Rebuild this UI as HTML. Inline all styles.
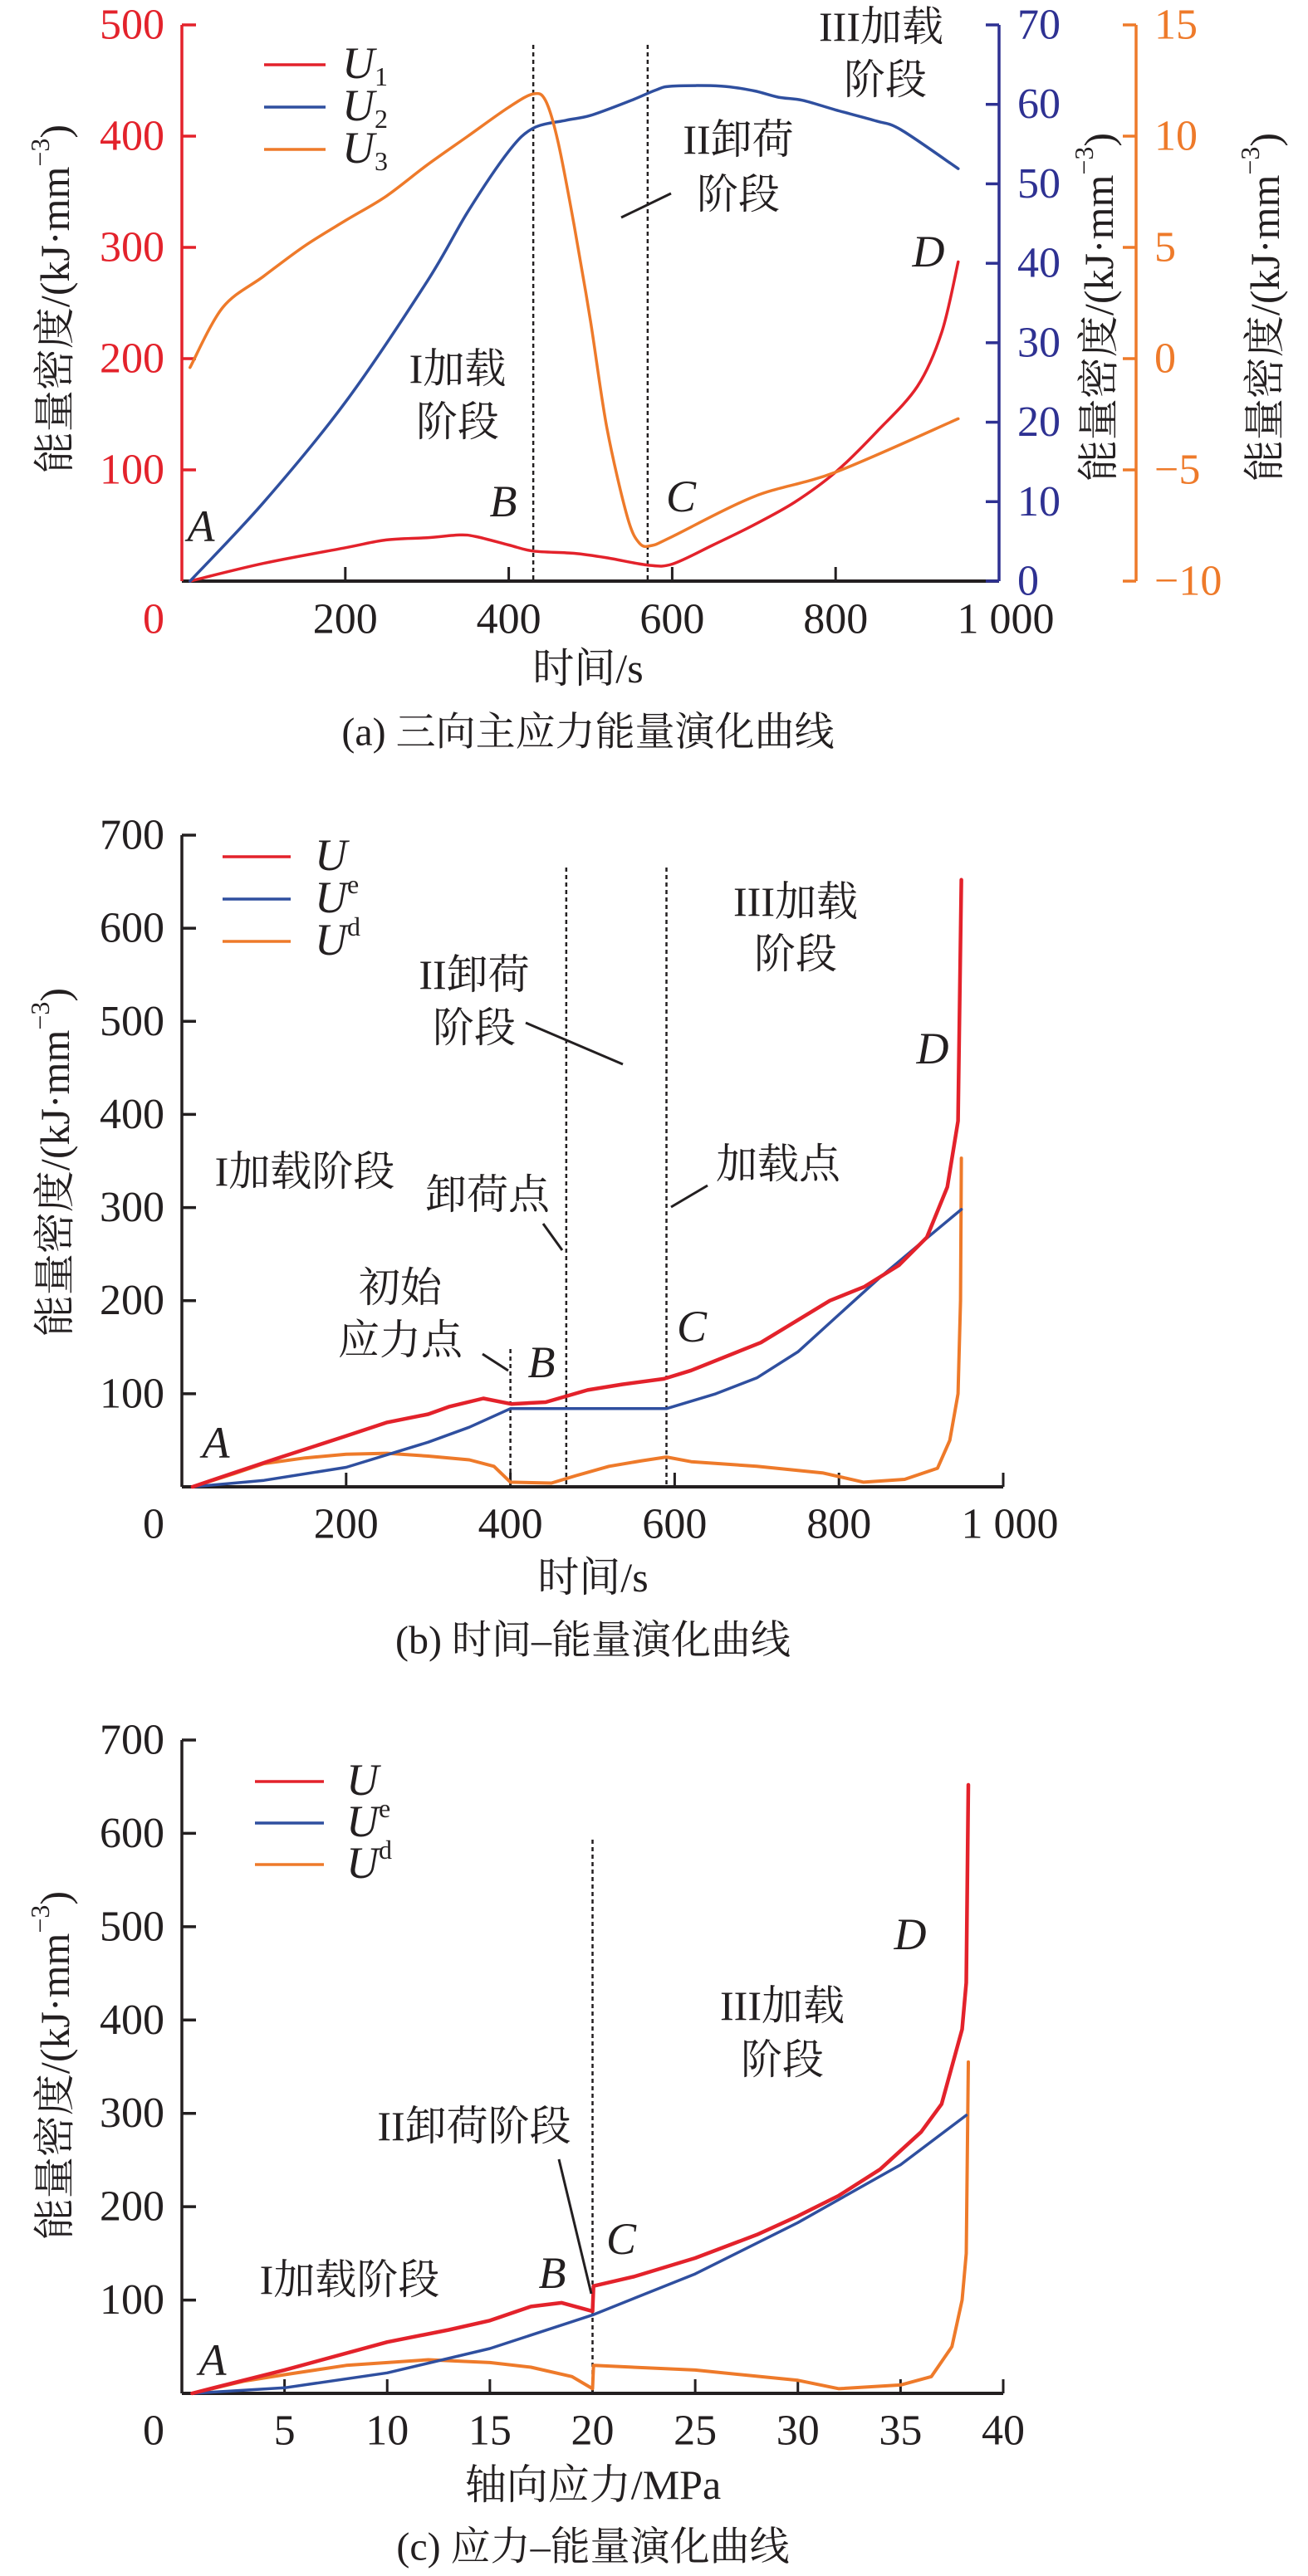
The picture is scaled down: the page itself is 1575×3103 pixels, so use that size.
<!DOCTYPE html>
<html><head><meta charset="utf-8">
<style>
html,body{margin:0;padding:0;background:#fff;}
svg{display:block;}
text{font-family:"Liberation Serif","Noto Serif CJK SC",serif;}
</style></head>
<body>
<svg id="fig" xmlns="http://www.w3.org/2000/svg" width="1575" height="3103" viewBox="0 0 1575 3103"></svg>
<script>
// ---------- Panel (a) data ----------
const aTime1 = [10,100,200,250,300,340,360,400,430,480,520,570,600,650,700,750,800,850,900,930,950];
const aU1    = [0,16,30,37,39,41.5,40,32.5,27,25,21,14.4,15.3,32.5,50.5,71,98,134,175,224,287];
const aTime2 = [10,100,200,300,350,400,430,470,500,550,580,600,660,700,730,760,800,850,880,950];
const aU2    = [0,9.9,22.5,37.7,46.5,54.1,57,58,58.6,60.5,61.8,62.3,62.3,61.7,60.9,60.5,59.3,57.9,56.8,51.9];
const aTime3 = [10,50,100,150,200,250,300,350,400,430,445,460,480,500,520,545,560,575,600,700,800,950];
const aU3    = [-0.4,2.3,3.7,5.06,6.2,7.3,8.7,10,11.3,11.9,11.6,9.8,6,1.7,-3.1,-7.1,-8.3,-8.4,-8,-6.2,-5.1,-2.7];
const aXTicks = [0,200,400,600,800,1000];
const aXTickLabels = ["0","200","400","600","800","1 000"];
const aY1Ticks = [100,200,300,400,500];
const aY2Ticks = [0,10,20,30,40,50,60,70];
const aY3Ticks = [-10,-5,0,5,10,15];
const aY3Labels = ["\u221210","\u22125","0","5","10","15"];
const aDash = [430,570];
// ---------- Panel (b) data ----------
const bTime = [13,63,114,198,249,300,325,367,401,443,494,536,587,620,705,789,831,873,907,932,945,949];
const bU    = [0,15,30,54,69,78,86,95,89,91,104,110,116,125,155,200,215,238,268,322,393,652];
const bTimeE = [13,100,200,300,350,400,470,590,650,700,750,800,850,900,949];
const bUe    = [0,7,21,48,64,84,84,84,100,117,145,185,225,262,298];
const bTimeD = [13,63,100,150,200,250,300,350,380,400,450,480,520,560,590,620,700,780,830,880,920,935,945,948,949];
const bUd    = [0,14,25,31,35,36,33,29,22,5,4,12,22,28,32,27,22,15,5,8,20,50,100,200,353];
const bXTicks = [0,200,400,600,800,1000];
const bXTickLabels = ["0","200","400","600","800","1 000"];
const bYTicks = [100,200,300,400,500,600,700];
// ---------- Panel (c) data ----------
const cS  = [0.5,3,5,10,13,15,17,18.5,20,20.05,22,25,28,30,32,34,36,37,38,38.2,38.3];
const cU  = [0,14,25,55,68,78,93,97,88,115,125,145,170,190,212,240,280,310,390,440,652];
const cSE = [0.5,5,10,15,20,25,30,35,38.2];
const cUe = [0,6,22,48,84,128,183,245,298];
const cSD = [0.5,3,5,8,12,15,17,19,20,20.05,25,30,32,35,36.5,37.5,38,38.2,38.3];
const cUd = [0,13,20,30,36,33,28,18,5,30,25,14,5,9,18,50,100,150,355];
const cXTicks = [0,5,10,15,20,25,30,35,40];
const cYTicks = [100,200,300,400,500,600,700];
const cDash = [20];

const NS = "http://www.w3.org/2000/svg";
const svg = document.getElementById('fig');
const RED="#e3222b", BLUE="#2f4f9f", NAVY="#2e3192", ORANGE="#ee7a2a";

function el(tag, attrs, parent){
  const e = document.createElementNS(NS, tag);
  for (const k in attrs) e.setAttribute(k, attrs[k]);
  (parent||svg).appendChild(e);
  return e;
}
function txt(x,y,s,size,anchor,color,parent,italic){
  const t = el('text',{x:x,y:y,'font-size':size,'text-anchor':anchor||'middle',fill:color||'#231f20','dominant-baseline':'central'},parent);
  if (italic) t.setAttribute('font-style','italic');
  t.textContent = s;
  return t;
}
function line(x1,y1,x2,y2,color,w,parent,dash){
  const l = el('line',{x1:x1,y1:y1,x2:x2,y2:y2,stroke:color,'stroke-width':w||3},parent);
  if (dash) l.setAttribute('stroke-dasharray',dash);
  return l;
}
function series(xs,ys,sx,sy,color,parent,w){
  const pts = xs.map((v,i)=>sx(v).toFixed(1)+','+sy(ys[i]).toFixed(1)).join(' ');
  return el('polyline',{points:pts,fill:'none',stroke:color,'stroke-width':w||3.5,'stroke-linejoin':'round','stroke-linecap':'round'},parent);
}
function smooth(xs,ys,sx,sy,color,parent,w){
  const P = xs.map((v,i)=>[sx(v),sy(ys[i])]);
  let d = 'M'+P[0][0].toFixed(1)+','+P[0][1].toFixed(1);
  const k = 0.16;
  for (let i=0;i<P.length-1;i++){
    const p0=P[Math.max(0,i-1)], p1=P[i], p2=P[i+1], p3=P[Math.min(P.length-1,i+2)];
    const c1=[p1[0]+(p2[0]-p0[0])*k, p1[1]+(p2[1]-p0[1])*k];
    const c2=[p2[0]-(p3[0]-p1[0])*k, p2[1]-(p3[1]-p1[1])*k];
    d += ' C'+c1[0].toFixed(1)+','+c1[1].toFixed(1)+' '+c2[0].toFixed(1)+','+c2[1].toFixed(1)+' '+p2[0].toFixed(1)+','+p2[1].toFixed(1);
  }
  return el('path',{d:d,fill:'none',stroke:color,'stroke-width':w||3.5,'stroke-linejoin':'round','stroke-linecap':'round'},parent);
}
function yTitle(x,y,parent){
  const t = el('text',{x:0,y:0,'font-size':50,'text-anchor':'middle',fill:'#231f20','dominant-baseline':'central',transform:'translate('+x+','+y+') rotate(-90)'},parent);
  t.appendChild(document.createTextNode('能量密度/(kJ·mm'));
  const s = el('tspan',{'font-size':32,dy:-18},t); s.textContent='\u22123';
  const c = el('tspan',{dy:18},t); c.textContent=')';
  return t;
}
function legendLabel(x,y,sup,sub,parent){
  const t = el('text',{x:x,y:y,'font-size':54,'font-style':'italic',fill:'#231f20','dominant-baseline':'central'},parent);
  t.appendChild(document.createTextNode('U'));
  if (sup){ const s=el('tspan',{'font-size':32,'font-style':'normal',dy:-16},t); s.textContent=sup; }
  if (sub){ const s=el('tspan',{'font-size':32,'font-style':'normal',dy:16},t); s.textContent=sub; }
  return t;
}

// ================= PANEL A =================
const gA = el('g',{});


const aL=219, aR=1203, aB=700, aT=30, xBlue=1203, xOr=1368;
const ax = t => aL + (aR-aL)*t/1000;
const ay1 = v => aB - (aB-aT)*v/500;
const ay2 = v => aB - (aB-aT)*v/70;
const ay3 = v => aB - (aB-aT)*(v+10)/25;
const aXAxis = line(aL,aB,aR,aB,'#231f20',4,gA);


const aYAxis1 = line(aL,aT,aL,aB,RED,3.5,gA);


const aYAxis2 = line(xBlue,aT,xBlue,aB,NAVY,3.5,gA);


const aYAxis3 = line(xOr,aT,xOr,aB,ORANGE,3.5,gA);


aXTicks.forEach((t,i)=>{
  if (t>0 && t<1000) line(ax(t),aB,ax(t),aB-17,'#231f20',3,gA);
  const lb = txt(t==0?185:ax(t)+(t==1000?8:0),746,aXTickLabels[i],52,'middle',t==0?RED:'#231f20',gA);
  
  
});
aY1Ticks.forEach(v=>{
  line(aL,ay1(v),aL+17,ay1(v),RED,3.5,gA);
  const lb=txt(198,ay1(v),String(v),52,'end',RED,gA);
  
  
});
aY2Ticks.forEach(v=>{
  line(xBlue-16,ay2(v),xBlue,ay2(v),NAVY,3.5,gA);
  const lb=txt(1225,ay2(v),String(v),52,'start',NAVY,gA);
  
  
});
aY3Ticks.forEach((v,i)=>{
  line(xOr-16,ay3(v),xOr,ay3(v),ORANGE,3.5,gA);
  const lb=txt(1390,ay3(v),aY3Labels[i],52,'start',ORANGE,gA);
  
  
});
const aT1 = yTitle(66,360,gA);


const aT2 = yTitle(1323,370,gA);


const aT3 = yTitle(1523,370,gA);


const aXT = txt(708,805,'时间/s',50,'middle','#231f20',gA);


const aCap = txt(708,882,'(a) 三向主应力能量演化曲线',48,'middle','#231f20',gA);


aDash.forEach(t=>{
  const d=line(ax(t),54,ax(t),aB,'#231f20',2.5,gA,'5,4');
  
  
});
const sA1 = smooth(aTime1,aU1,ax,ay1,RED,gA);


const sA2 = smooth(aTime2,aU2,ax,ay2,BLUE,gA);


const sA3 = smooth(aTime3,aU3,ax,ay3,ORANGE,gA);


[[RED,'1'],[BLUE,'2'],[ORANGE,'3']].forEach((c,i)=>{
  const y=78+i*51;
  const l=line(318,y,392,y,c[0],3.5,gA);
  
  
  const lb=legendLabel(412,y-2,null,c[1],gA);
  
  
});
[['III加载',1061,32],['阶段',1066,96],['II卸荷',889,168],['阶段',889,234],['I加载',551,444],['阶段',551,508]].forEach(a=>{
  const t=txt(a[1],a[2],a[0],50,'middle','#231f20',gA);
  
  
});
line(748,262,808,233,'#231f20',3,gA);
[['A',242,634],['B',606,604],['C',820,598],['D',1118,303]].forEach(a=>{
  const t=txt(a[1],a[2],a[0],54,'middle','#231f20',gA,true);
  
  
});

// ================= PANEL B =================
const gB = el('g',{});


const bL=219, bR=1208, bB=1791, bT=1006;
const bx = t => bL + (bR-bL)*t/1000;
const by = v => bB - (bB-bT)*v/700;
function stdAxes(g,L,R,B,T,xt,xlab,sx,yt,sy,labY){
  const xa=line(L,B,R,B,'#231f20',4,g);
  
  
  const ya=line(L,T,L,B,'#231f20',3.5,g);
  
  
  xt.forEach((t,i)=>{
    if (i>0) line(sx(t),B,sx(t),B-17,'#231f20',3,g);
    const lb=txt(i==0?185:sx(t)+(xlab[i].length>3?8:0),labY,xlab[i],52,'middle','#231f20',g);
    
    
  });
  yt.forEach(v=>{
    line(L,sy(v),L+17,sy(v),'#231f20',3.5,g);
    const lb=txt(198,sy(v),String(v),52,'end','#231f20',g);
    
    
  });
}
stdAxes(gB,bL,bR,bB,bT,bXTicks,bXTickLabels,bx,bYTicks,by,1836);
const bYT = yTitle(66,1400,gB);


const bXT = txt(714,1900,'时间/s',50,'middle','#231f20',gB);


const bCap = txt(714,1976,'(b) 时间–能量演化曲线',48,'middle','#231f20',gB);


const bD1=line(bx(400),1625,bx(400),bB,'#231f20',2.5,gB,'5,4');


const bD2=line(bx(468),1045,bx(468),bB,'#231f20',2.5,gB,'5,4');


const bD3=line(bx(590),1045,bx(590),bB,'#231f20',2.5,gB,'5,4');


const sBD=series(bTimeD,bUd,bx,by,ORANGE,gB,4);


const sBE=series(bTimeE,bUe,bx,by,BLUE,gB);


const sBU=series(bTime,bU,bx,by,RED,gB,4.5);


function legend3(g,x1,x2,ys,lx){
  [[RED,null],[BLUE,'e'],[ORANGE,'d']].forEach((c,i)=>{
    const l=line(x1,ys[i],x2,ys[i],c[0],3.5,g);
    
    
    const lb=legendLabel(lx,ys[i]-2,c[1],null,g);
    
    
  });
}
legend3(gB,268,350,[1032,1083,1134],379);
[['III加载',958,1086],['阶段',958,1149],['II卸荷',571,1174],['阶段',571,1238],['I加载阶段',367,1411],['卸荷点',587,1439],['加载点',937,1402],['初始',482,1551],['应力点',482,1614]].forEach(a=>{
  const t=txt(a[1],a[2],a[0],50,'middle','#231f20',gB);
  
  
});
line(633,1232,750,1282,'#231f20',3,gB);
line(654,1474,677,1506,'#231f20',3,gB);
line(852,1428,808,1454,'#231f20',3,gB);
line(581,1631,612,1651,'#231f20',3,gB);
[['A',260,1738],['B',652,1641],['C',833,1598],['D',1123,1263]].forEach(a=>{
  const t=txt(a[1],a[2],a[0],54,'middle','#231f20',gB,true);
  
  
});

// ================= PANEL C =================
const gC = el('g',{});


const cL=219, cR=1208, cB=2883, cT=2096;
const cx = s => cL + (cR-cL)*s/40;
const cy = v => cB - (cB-cT)*v/700;
stdAxes(gC,cL,cR,cB,cT,cXTicks,cXTicks.map(String),cx,cYTicks,cy,2928);
const cYT = yTitle(66,2488,gC);


const cXT = txt(714,2993,'轴向应力/MPa',50,'middle','#231f20',gC);


const cCap = txt(714,3068,'(c) 应力–能量演化曲线',48,'middle','#231f20',gC);


cDash.forEach(s=>{
  const d=line(cx(s),2216,cx(s),cB,'#231f20',2.5,gC,'5,4');
  
  
});
const sCD=series(cSD,cUd,cx,cy,ORANGE,gC,4);


const sCE=series(cSE,cUe,cx,cy,BLUE,gC);


const sCU=series(cS,cU,cx,cy,RED,gC,4.5);


legend3(gC,307,390,[2146,2196,2246],417);
[['III加载',942,2416],['阶段',942,2481],['II卸荷阶段',571,2561],['I加载阶段',421,2746]].forEach(a=>{
  const t=txt(a[1],a[2],a[0],50,'middle','#231f20',gC);
  
  
});
line(673,2601,712,2763,'#231f20',3,gC);
[['A',256,2843],['B',665,2738],['C',748,2697],['D',1096,2330]].forEach(a=>{
  const t=txt(a[1],a[2],a[0],54,'middle','#231f20',gC,true);
  
  
});
</script>
</body></html>
